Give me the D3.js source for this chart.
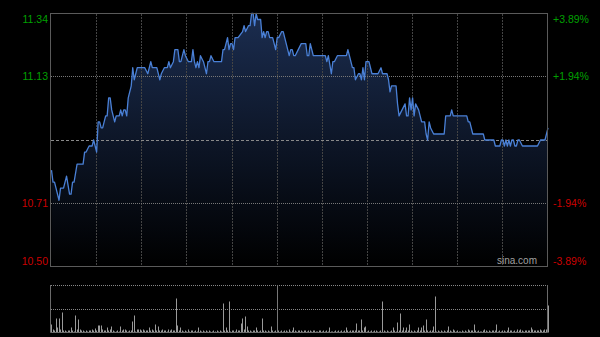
<!DOCTYPE html>
<html lang="zh">
<head>
    <meta charset="UTF-8">
    <title>分时图</title>
    <script src="https://d3js.org/d3.v7.min.js"></script>
    <style>
        html, body {
            margin: 0;
            padding: 0;
            background: #000;
        }
        svg {
            display: block;
            font-family: "Liberation Sans", Arial, sans-serif;
        }
    </style>
</head>
<body>
    <div id="chart"></div>

    <script>
        // Données (minutes depuis 9:30, séance HK de 330 min)
        const prevClose = 10.92;
        const priceLevels = [11.34, 11.13, 10.71, 10.50];
        const priceLabels = ['11.34', '11.13', '10.71', '10.50'];
        const pctLabels = ['+3.89%', '+1.94%', '-1.94%', '-3.89%'];
        const gridMinutes = [30, 60, 90, 120, 150, 180, 210, 240, 270, 300];
        const lunchMinute = 150;

        const minutes = [
            0, 1, 2, 3, 5, 6, 8, 10, 12, 13, 14, 15, 17, 21, 22, 23, 25, 27, 28, 29,
            30, 31, 32, 33, 34, 36, 37, 38, 39, 40, 42, 43, 45, 46, 47, 48, 49, 50, 51, 53,
            54, 55, 57, 62, 64, 66, 67, 70, 72, 73, 75, 77, 78, 79, 81, 82, 84, 85, 86, 88,
            89, 91, 93, 94, 95, 96, 97, 98, 99, 101, 102, 103, 104, 105, 106, 108, 113, 114, 115, 117,
            118, 119, 120, 121, 122, 124, 127, 128, 129, 131, 132, 133, 134, 135, 136, 137, 139, 140, 141, 142,
            143, 144, 145, 147, 148, 149, 150, 151, 153, 154, 155, 157, 158, 159, 160, 161, 162, 164, 166, 169,
            170, 171, 172, 174, 182, 183, 184, 186, 187, 188, 190, 196, 197, 198, 200, 201, 202, 204, 205, 206,
            207, 208, 209, 211, 213, 217, 219, 220, 223, 224, 225, 226, 229, 230, 231, 233, 235, 236, 237, 238,
            239, 240, 241, 242, 244, 245, 246, 248, 249, 250, 251, 252, 254, 261, 262, 265, 266, 267, 276, 277,
            278, 280, 287, 288, 294, 295, 298, 299, 300, 301, 302, 303, 304, 305, 306, 307, 308, 309, 310, 311,
            313, 323, 325, 328, 330
        ];
        const prices = [
            10.82, 10.78, 10.78, 10.76, 10.72, 10.76, 10.76, 10.80, 10.74, 10.74, 10.78, 10.78, 10.84, 10.84, 10.88, 10.88, 10.90, 10.90, 10.92, 10.90,
            10.88, 10.98, 10.98, 10.96, 10.96, 11.00, 11.00, 11.06, 11.06, 11.02, 10.98, 11.00, 11.00, 11.02, 11.00, 11.02, 11.02, 11.00, 11.06, 11.10,
            11.16, 11.12, 11.16, 11.16, 11.14, 11.18, 11.16, 11.16, 11.12, 11.14, 11.16, 11.16, 11.18, 11.16, 11.18, 11.22, 11.22, 11.18, 11.18, 11.22,
            11.20, 11.18, 11.18, 11.22, 11.18, 11.16, 11.18, 11.16, 11.20, 11.18, 11.16, 11.14, 11.18, 11.18, 11.20, 11.18, 11.18, 11.22, 11.22, 11.26,
            11.22, 11.24, 11.24, 11.22, 11.26, 11.26, 11.28, 11.30, 11.28, 11.30, 11.30, 11.34, 11.34, 11.30, 11.34, 11.32, 11.32, 11.26, 11.28, 11.26,
            11.28, 11.28, 11.26, 11.26, 11.24, 11.22, 11.26, 11.26, 11.28, 11.28, 11.26, 11.22, 11.20, 11.22, 11.22, 11.20, 11.20, 11.22, 11.24, 11.24,
            11.20, 11.20, 11.24, 11.20, 11.20, 11.18, 11.20, 11.14, 11.18, 11.18, 11.20, 11.20, 11.22, 11.20, 11.16, 11.16, 11.12, 11.14, 11.14, 11.12,
            11.16, 11.12, 11.18, 11.18, 11.14, 11.14, 11.16, 11.14, 11.14, 11.12, 11.08, 11.10, 11.10, 11.04, 11.00, 11.02, 11.04, 11.00, 11.00, 11.06,
            11.02, 11.06, 11.00, 11.04, 11.02, 11.00, 10.98, 10.98, 10.94, 10.92, 10.98, 10.96, 10.94, 10.94, 11.00, 11.00, 11.02, 11.00, 11.00, 10.98,
            10.98, 10.94, 10.94, 10.92, 10.92, 10.90, 10.90, 10.92, 10.92, 10.90, 10.92, 10.90, 10.92, 10.90, 10.92, 10.92, 10.90, 10.90, 10.92, 10.92,
            10.90, 10.90, 10.92, 10.92, 10.96
        ];

        // Volume par minute (0 à 330)
        const volumes = [
            80, 30, 20, 140, 50, 140, 30, 200, 20, 20,
            10, 20, 20, 50, 20, 10, 170, 30, 130, 30,
            20, 20, 10, 20, 10, 20, 20, 30, 20, 40,
            20, 70, 70, 70, 30, 20, 20, 50, 20, 30,
            60, 20, 10, 10, 20, 10, 60, 20, 30, 30,
            20, 10, 20, 20, 110, 170, 10, 30, 30, 30,
            20, 30, 20, 20, 20, 50, 20, 30, 20, 80,
            20, 60, 20, 20, 30, 20, 20, 10, 30, 20,
            30, 20, 20, 340, 70, 20, 50, 20, 10, 20,
            10, 30, 10, 20, 20, 10, 20, 10, 50, 20,
            10, 20, 10, 20, 10, 20, 10, 10, 20, 10,
            20, 10, 20, 10, 290, 20, 50, 20, 310, 10,
            20, 20, 10, 30, 20, 20, 90, 140, 30, 160,
            60, 20, 20, 10, 20, 20, 50, 20, 10, 20,
            140, 20, 20, 10, 20, 10, 60, 20, 10, 20,
            30, 20, 10, 20, 10, 20, 20, 10, 30, 10,
            20, 50, 20, 10, 20, 20, 20, 10, 20, 20,
            10, 20, 20, 10, 20, 20, 10, 10, 20, 20,
            10, 20, 10, 20, 10, 50, 10, 10, 10, 20,
            10, 20, 10, 20, 10, 20, 50, 20, 10, 20,
            20, 20, 20, 90, 20, 20, 130, 20, 50, 60,
            10, 20, 10, 20, 10, 20, 20, 10, 10, 20,
            310, 20, 10, 20, 10, 10, 20, 50, 20, 10,
            100, 20, 190, 20, 50, 20, 50, 20, 80, 20,
            10, 20, 10, 20, 50, 20, 50, 70, 20, 130,
            20, 10, 20, 20, 60, 360, 10, 20, 10, 20,
            10, 20, 10, 20, 60, 20, 10, 30, 20, 10,
            20, 10, 10, 20, 10, 20, 10, 30, 20, 20,
            20, 80, 20, 10, 20, 10, 10, 20, 30, 20,
            10, 20, 10, 20, 20, 20, 80, 10, 20, 10,
            20, 20, 10, 20, 50, 20, 20, 10, 20, 10,
            30, 20, 30, 20, 10, 20, 20, 20, 20, 50,
            30, 20, 20, 20, 20, 30, 20, 20, 30, 30,
            270
        ];
        const volumeMax = 470;

        const W = 600, H = 337;
        const svg = d3.select('#chart').append('svg')
            .attr('width', W)
            .attr('height', H);

        const x = d3.scaleLinear().domain([0, 330]).range([51.5, 548]);
        const y = d3.scaleLinear().domain([10.50, 11.34]).range([266.5, 13.5]);
        const yv = d3.scaleLinear().domain([0, volumeMax]).range([332.5, 285.5]);
        const px = v => Math.floor(v) + 0.5;
        const py = v => Math.round(v - 0.5) + 0.5;

        // dégradé sous la courbe
        const grad = svg.append('defs').append('linearGradient')
            .attr('id', 'fillGrad')
            .attr('gradientUnits', 'userSpaceOnUse')
            .attr('x1', 0).attr('y1', 13)
            .attr('x2', 0).attr('y2', 266);
        grad.append('stop').attr('offset', '0%').attr('stop-color', '#1b2d50');
        grad.append('stop').attr('offset', '55%').attr('stop-color', '#0c1424');
        grad.append('stop').attr('offset', '100%').attr('stop-color', '#000');

        const pts = minutes.map((m, i) => ({ m: m, p: prices[i] }));

        const area = d3.area()
            .x(d => x(d.m))
            .y0(y(10.50))
            .y1(d => y(d.p));
        svg.append('path')
            .datum(pts)
            .attr('d', area)
            .attr('fill', 'url(#fillGrad)');

        // grille verticale
        svg.append('g').selectAll('line')
            .data(gridMinutes)
            .enter().append('line')
            .attr('x1', d => px(x(d))).attr('x2', d => px(x(d)))
            .attr('y1', 14).attr('y2', 266)
            .attr('stroke', '#444')
            .attr('stroke-dasharray', '2,1');

        // grille horizontale
        svg.append('g').selectAll('line')
            .data([11.13, 10.71])
            .enter().append('line')
            .attr('x1', 51).attr('x2', 547)
            .attr('y1', d => py(y(d))).attr('y2', d => py(y(d)))
            .attr('stroke', '#777')
            .attr('stroke-dasharray', '1,1');

        svg.append('line')
            .attr('x1', 51).attr('x2', 547)
            .attr('y1', py(y(prevClose))).attr('y2', py(y(prevClose)))
            .attr('stroke', '#8a8a8a')
            .attr('stroke-dasharray', '3,2');

        // courbe de prix
        const line = d3.line()
            .x(d => x(d.m))
            .y(d => y(d.p));
        svg.append('path')
            .datum(pts)
            .attr('d', line)
            .attr('fill', 'none')
            .attr('stroke', '#4a80d6')
            .attr('stroke-width', 1.3)
            .attr('stroke-linejoin', 'round');

        // cadre
        svg.append('rect')
            .attr('x', 50.5).attr('y', 13.5)
            .attr('width', 497).attr('height', 253)
            .attr('fill', 'none')
            .attr('stroke', '#5a5a5a');

        // étiquettes
        const colorOf = d => d > prevClose ? '#00a000' : '#cc0000';
        const labelY = (d, i) => i === 0 ? y(d) + 9 : (i === priceLevels.length - 1 ? y(d) - 2 : y(d) + 3.5);

        svg.append('g').selectAll('text')
            .data(priceLevels)
            .enter().append('text')
            .attr('x', 48)
            .attr('y', labelY)
            .attr('text-anchor', 'end')
            .attr('font-size', 10.5)
            .attr('fill', colorOf)
            .text((d, i) => priceLabels[i]);

        svg.append('g').selectAll('text')
            .data(priceLevels)
            .enter().append('text')
            .attr('x', 553)
            .attr('y', labelY)
            .attr('font-size', 10.5)
            .attr('fill', colorOf)
            .text((d, i) => pctLabels[i]);

        svg.append('text')
            .attr('x', 537)
            .attr('y', 264)
            .attr('text-anchor', 'end')
            .attr('font-size', 10)
            .attr('fill', '#a0a0a0')
            .text('sina.com');

        // volume
        const vol = svg.append('g');
        vol.append('line')
            .attr('x1', 51).attr('x2', 547)
            .attr('y1', 285.5).attr('y2', 285.5)
            .attr('stroke', '#888')
            .attr('stroke-dasharray', '1,1');
        vol.append('line')
            .attr('x1', 51).attr('x2', 547)
            .attr('y1', 309.5).attr('y2', 309.5)
            .attr('stroke', '#888')
            .attr('stroke-dasharray', '1,1');

        vol.selectAll('.vbar')
            .data(volumes)
            .enter().append('line')
            .attr('class', 'vbar')
            .attr('x1', (d, i) => px(x(i))).attr('x2', (d, i) => px(x(i)))
            .attr('y1', yv(0)).attr('y2', d => yv(d))
            .attr('stroke', '#9a9a9a');

        vol.append('line')
            .attr('x1', px(x(lunchMinute))).attr('x2', px(x(lunchMinute)))
            .attr('y1', 285).attr('y2', 333)
            .attr('stroke', '#777');

        vol.append('path')
            .attr('d', 'M50.5,285V332.5H547.5V285')
            .attr('fill', 'none')
            .attr('stroke', '#6a6a6a');
    </script>
</body>
</html>
